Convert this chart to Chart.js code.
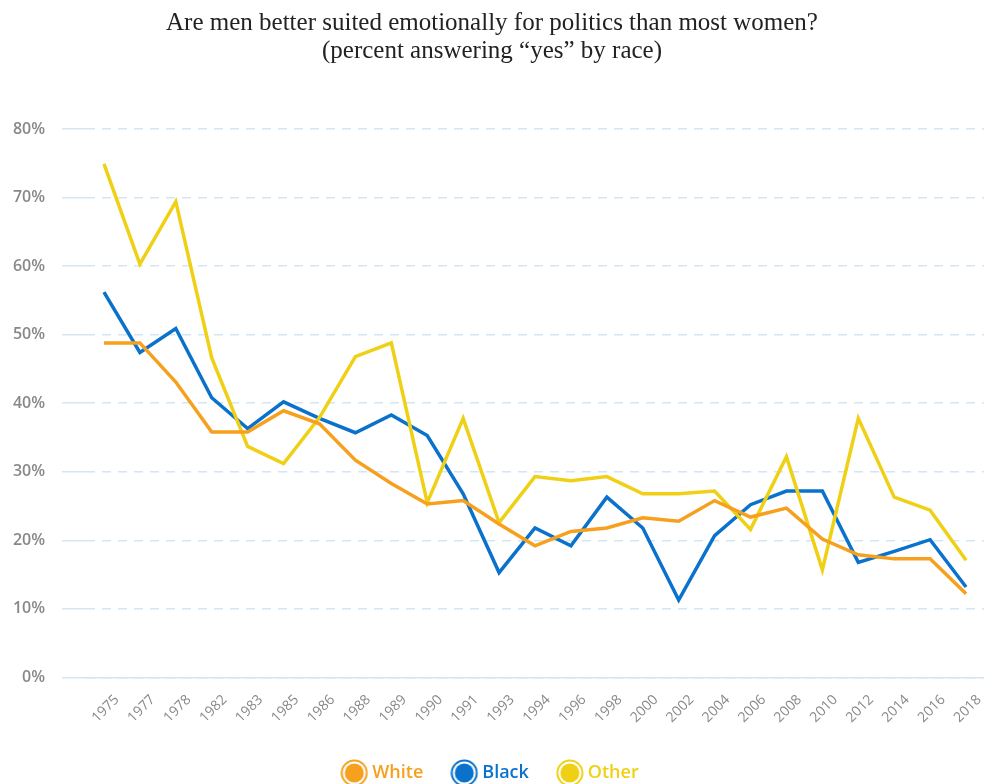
<!DOCTYPE html>
<html>
<head>
<meta charset="utf-8">
<script src="https://cdn.jsdelivr.net/npm/chart.js@4"></script>
<style>
  html, body { margin: 0; padding: 0; background: #fff; }
  .wrap { width: 984px; height: 784px; position: relative; }
</style>
</head>
<body>
<div class="wrap"><canvas id="myChart"></canvas></div>
<script>
let years = ['1975','1977','1978','1982','1983','1985','1986','1988','1989','1990','1991','1993','1994','1996','1998','2000','2002','2004','2006','2008','2010','2012','2014','2016','2018'];
let white = [48.8, 48.8, 43.1, 35.8, 35.8, 38.9, 37.0, 31.7, 28.3, 25.3, 25.8, 22.4, 19.2, 21.3, 21.8, 23.3, 22.8, 25.8, 23.4, 24.7, 20.2, 17.9, 17.3, 17.3, 12.2];
let black = [56.2, 47.4, 50.9, 40.8, 36.3, 40.2, 37.8, 35.7, 38.3, 35.3, 26.8, 15.3, 21.8, 19.2, 26.3, 21.8, 11.3, 20.7, 25.2, 27.2, 27.2, 16.8, 18.4, 20.1, 13.2];
let other = [74.9, 60.3, 69.4, 46.6, 33.7, 31.2, 37.9, 46.8, 48.8, 25.5, 37.8, 22.6, 29.3, 28.7, 29.3, 26.8, 26.8, 27.2, 21.6, 32.2, 15.7, 37.8, 26.3, 24.4, 17.1];
let yTicks = [0, 10, 20, 30, 40, 50, 60, 70, 80];

let colors = { White: '#f6a01e', Black: '#0a72cc', Other: '#f0d015' };

// legend marker: filled dot inside a thin ring
function marker(col) {
  let c = document.createElement('canvas');
  c.width = 28; c.height = 28;
  let g = c.getContext('2d');
  g.beginPath(); g.arc(14, 14, 12.5, 0, Math.PI * 2);
  g.strokeStyle = col; g.lineWidth = 2; g.stroke();
  g.beginPath(); g.arc(14, 14, 9.5, 0, Math.PI * 2);
  g.fillStyle = col; g.fill();
  return c;
}

let ctx = document.getElementById('myChart');
new Chart(ctx, {
  type: 'line',
  data: {
    labels: years,
    datasets: [
      { label: 'White', data: white, borderColor: colors.White, backgroundColor: colors.White, borderWidth: 3.5, pointRadius: 0, tension: 0, order: 1 },
      { label: 'Black', data: black, borderColor: colors.Black, backgroundColor: colors.Black, borderWidth: 3.5, pointRadius: 0, tension: 0, order: 3 },
      { label: 'Other', data: other, borderColor: colors.Other, backgroundColor: colors.Other, borderWidth: 3.5, pointRadius: 0, tension: 0, order: 2 }
    ]
  },
  options: {
    responsive: true,
    maintainAspectRatio: false,
    animation: false,
    layout: { padding: { top: 0, right: 0, bottom: -8, left: 0 } },
    plugins: {
      title: {
        display: true,
        text: ['Are men better suited emotionally for politics than most women?', '(percent answering \u201cyes\u201d by race)'],
        font: { family: 'Liberation Serif', size: 25, weight: 'normal', lineHeight: 1.12 },
        color: '#222',
        padding: { top: 9, bottom: 64 }
      },
      legend: {
        position: 'bottom',
        labels: {
          usePointStyle: true,
          boxWidth: 28,
          boxHeight: 28,
          padding: 32,
          font: { family: 'Open Sans', size: 18, weight: '600' },
          generateLabels: function(chart) {
            return chart.data.datasets.map(function(ds, i) {
              return {
                text: ds.label,
                fontColor: ds.borderColor,
                pointStyle: marker(ds.borderColor),
                fillStyle: ds.borderColor,
                strokeStyle: ds.borderColor,
                lineWidth: 0,
                datasetIndex: i
              };
            });
          }
        }
      },
      tooltip: { enabled: false }
    },
    scales: {
      x: {
        offset: true,
        afterFit: function(s) { s.paddingRight = 0; },
        grid: { display: false },
        border: { display: true, color: '#d4e6f4', width: 1.5 },
        ticks: {
          color: '#888',
          font: { family: 'Open Sans', size: 14 },
          maxRotation: 45,
          minRotation: 45,
          autoSkip: false,
          padding: 6,
          labelOffset: 13
        }
      },
      y: {
        min: 0,
        max: 80,
        afterFit: function(s) { s.width = 86; },
        afterBuildTicks: function(s) { s.ticks = yTicks.map(function(v) { return { value: v }; }); },
        grid: { color: '#d4e6f4', lineWidth: 1.5, tickLength: 24, drawTicks: true },
        border: { display: false, dash: [9, 7] },
        ticks: {
          color: '#888',
          font: { family: 'Open Sans', size: 16, weight: '600' },
          padding: 17,
          callback: function(v) { return v + '%'; }
        }
      }
    }
  }
});
</script>
</body>
</html>
